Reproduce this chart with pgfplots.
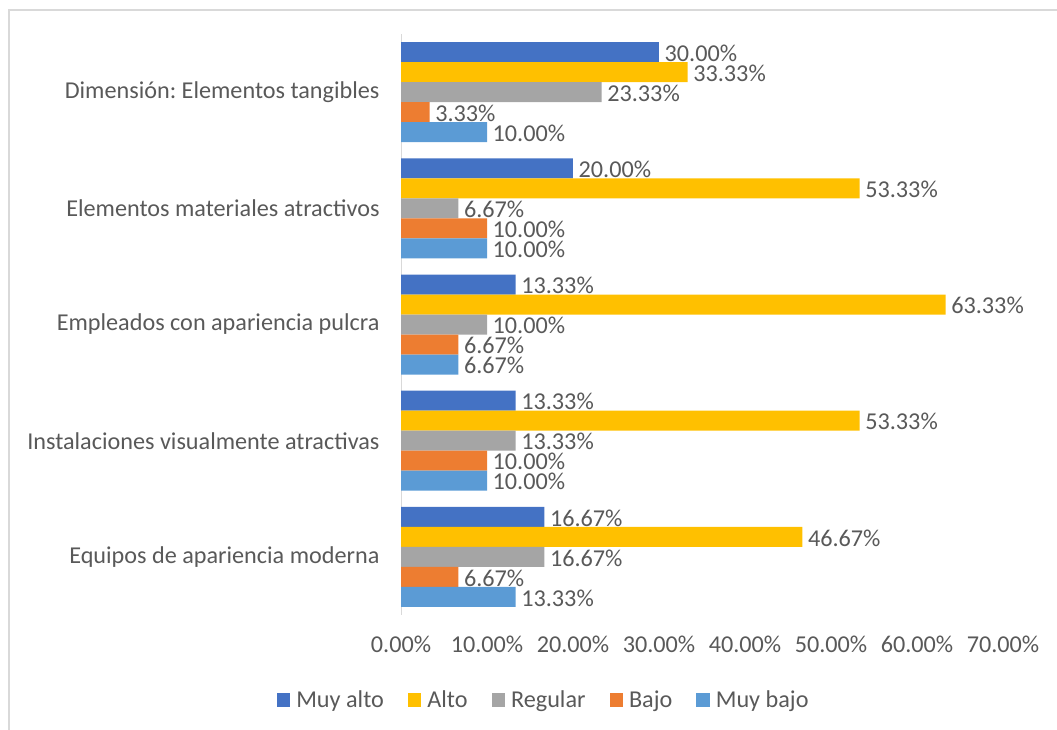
\documentclass[border=0pt]{standalone}
\usepackage{pgfplots}
\pgfplotsset{compat=1.18}
\usepackage{fontspec}
\setmainfont{Carlito}
\frenchspacing
\definecolor{muyalto}{HTML}{4472C4}
\definecolor{alto}{HTML}{FFC000}
\definecolor{regular}{HTML}{A5A5A5}
\definecolor{bajo}{HTML}{ED7D31}
\definecolor{muybajo}{HTML}{5B9BD5}
\definecolor{txt}{HTML}{595959}
\definecolor{frm}{HTML}{D9D9D9}
\newcommand{\fs}{\fontsize{24.2}{29}\selectfont}
\begin{document}
\begin{tikzpicture}[x=1pt,y=1pt]
\useasboundingbox (0,0) rectangle (1057,-730);
\draw[frm, line width=1.2pt] (9,-735) -- (9,-10) -- (1062,-10);
\begin{axis}[
  at={(401pt,-615pt)}, anchor=south west,
  scale only axis, width=602pt, height=581pt,
  xbar, bar width=20pt,
  xmin=0, xmax=70, ymin=0.5, ymax=5.5,
  xtick={0,10,...,70},
  xticklabels={0.00\%,10.00\%,20.00\%,30.00\%,40.00\%,50.00\%,60.00\%,70.00\%},
  ytick={1,2,3,4,5},
  yticklabels={{Equipos de apariencia moderna},{Instalaciones visualmente atractivas},{Empleados con apariencia pulcra},{Elementos materiales atractivos},{Dimensión: Elementos tangibles}},
  major tick length=0pt,
  axis line style={draw=none},
  tick label style={font=\fs, text=txt},
  xticklabel style={yshift=-17.5pt},
  yticklabel style={xshift=-18pt},
  /pgf/number format/assume math mode=true,
  point meta=x,
  nodes near coords={\pgfmathprintnumber[fixed,fixed zerofill,precision=2]{\pgfplotspointmeta}\%},
  every node near coord/.append style={font=\fs, text=txt, anchor=west, inner xsep=5.5pt, yshift=-1pt},
  legend style={at={(0.237,-0.146)}, anchor=center, legend columns=5, draw=none, fill=none,
    font=\fs, text=txt, inner sep=0pt,
    /tikz/every odd column/.append style={column sep=4pt},
    /tikz/every even column/.append style={column sep=22pt}},
  legend image code/.code={\fill[#1] (0pt,-6.75pt) rectangle (13.5pt,6.75pt);},
]
\draw[frm, line width=1.2pt] (axis cs:0,0.5) -- (axis cs:0,5.5);
\addplot[fill=muyalto, draw=none, bar shift=40pt] coordinates {(16.67,1) (13.33,2) (13.33,3) (20.00,4) (30.00,5)};
\addplot[fill=alto, draw=none, bar shift=20pt] coordinates {(46.67,1) (53.33,2) (63.33,3) (53.33,4) (33.33,5)};
\addplot[fill=regular, draw=none, bar shift=0pt] coordinates {(16.67,1) (13.33,2) (10.00,3) (6.67,4) (23.33,5)};
\addplot[fill=bajo, draw=none, bar shift=-20pt] coordinates {(6.67,1) (10.00,2) (6.67,3) (10.00,4) (3.33,5)};
\addplot[fill=muybajo, draw=none, bar shift=-40pt] coordinates {(13.33,1) (10.00,2) (6.67,3) (10.00,4) (10.00,5)};
\legend{Muy alto, Alto, Regular, Bajo, Muy bajo}
\end{axis}
\end{tikzpicture}
\end{document}
